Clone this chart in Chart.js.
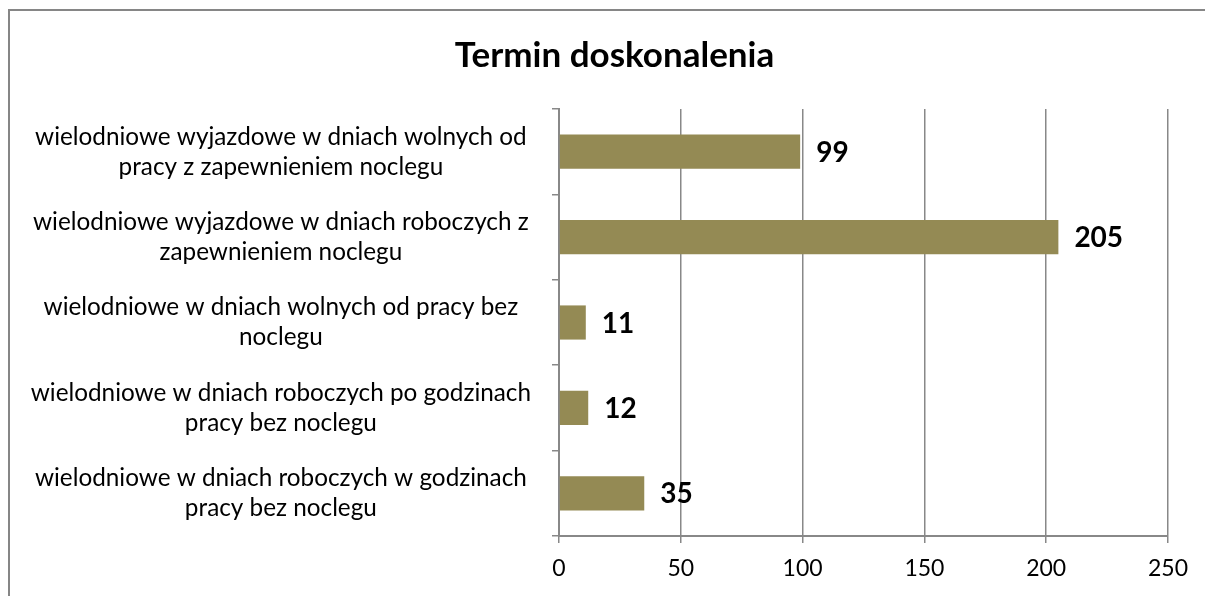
<!DOCTYPE html>
<html>
<head>
<meta charset="utf-8">
<script src="https://cdn.jsdelivr.net/npm/chart.js@4"></script>
<style>
	html, body { margin: 0; padding: 0; background: #fff; overflow: hidden; }
	#wrap { position: relative; width: 1205px; height: 596px; overflow: hidden; }
	#frame { position: absolute; left: 8px; top: 9px; width: 1197px; height: 587px; box-sizing: border-box; border-left: 2px solid #868686; border-top: 2px solid #868686; }
	#chart { position: absolute; left: 0; top: 0; }
</style>
</head>
<body>
<div id="wrap">
	<div id="frame"></div>
	<canvas id="chart" width="1205" height="596"></canvas>
</div>
<script>
const title = 'Termin doskonalenia'

const categories = [
	['wielodniowe wyjazdowe w dniach wolnych od', 'pracy z zapewnieniem noclegu'],
	['wielodniowe wyjazdowe w dniach roboczych z', 'zapewnieniem noclegu'],
	['wielodniowe w dniach wolnych od pracy bez', 'noclegu'],
	['wielodniowe w dniach roboczych po godzinach', 'pracy bez noclegu'],
	['wielodniowe w dniach roboczych w godzinach', 'pracy bez noclegu'],
]
const values = [99, 205, 11, 12, 35]
const xTicks = [0, 50, 100, 150, 200, 250]

const FONT = 'Lato'
const GRID = '#888888'

// wartosci przy koncu slupkow
const barValues = {
	id: 'barValues',
	afterDatasetsDraw(chart) {
		const ctx = chart.ctx
		const meta = chart.getDatasetMeta(0)
		ctx.save()
		ctx.font = `bold 28px ${FONT}`
		ctx.fillStyle = '#000'
		ctx.textAlign = 'left'
		ctx.textBaseline = 'middle'
		meta.data.forEach((bar, i) => {
			ctx.fillText(values[i], bar.x + 16, bar.y + 1)
		})
		ctx.restore()
	},
}

// etykiety osi Y wychodza poza lewy margines - nie przycinac ich
const unclipLabels = {
	id: 'unclipLabels',
	afterLayout(chart) {
		chart.scales.y.left = 0
	},
}

const ctx = document.getElementById('chart').getContext('2d')
const myChart = new Chart(ctx, {
	type: 'bar',
	data: {
		labels: categories,
		datasets: [
			{
				data: values,
				backgroundColor: '#948A54',
				borderWidth: 0,
				categoryPercentage: 1,
				barPercentage: 0.4,
			},
		],
	},
	options: {
		indexAxis: 'y',
		responsive: false,
		animation: false,
		layout: {
			padding: { left: 61, right: 37, top: 0, bottom: 0 },
		},
		plugins: {
			legend: { display: false },
			tooltip: { enabled: false },
			title: {
				display: true,
				text: title,
				color: '#000',
				font: { family: FONT, size: 35, weight: 'bold', lineHeight: 1.2 },
				padding: { top: 35, bottom: 32 },
			},
		},
		scales: {
			x: {
				min: xTicks[0],
				max: xTicks[xTicks.length - 1],
				afterBuildTicks: scale => {
					scale.ticks = xTicks.map(v => ({ value: v }))
				},
				afterFit: scale => {
					scale.height = 60
				},
				grid: { color: GRID, lineWidth: 1.5, tickLength: 7 },
				border: { color: GRID, width: 2 },
				ticks: {
					color: '#000',
					padding: 12,
					font: { family: FONT, size: 23 },
				},
			},
			y: {
				afterFit: scale => {
					scale.width = 498
				},
				grid: { drawOnChartArea: false, color: GRID, lineWidth: 1.5, tickLength: 7 },
				border: { color: GRID, width: 2 },
				ticks: {
					color: '#000',
					crossAlign: 'center',
					padding: 21,
					font: { family: FONT, size: 24.3, lineHeight: '30px' },
				},
			},
		},
	},
	plugins: [barValues, unclipLabels],
})
</script>
</body>
</html>
